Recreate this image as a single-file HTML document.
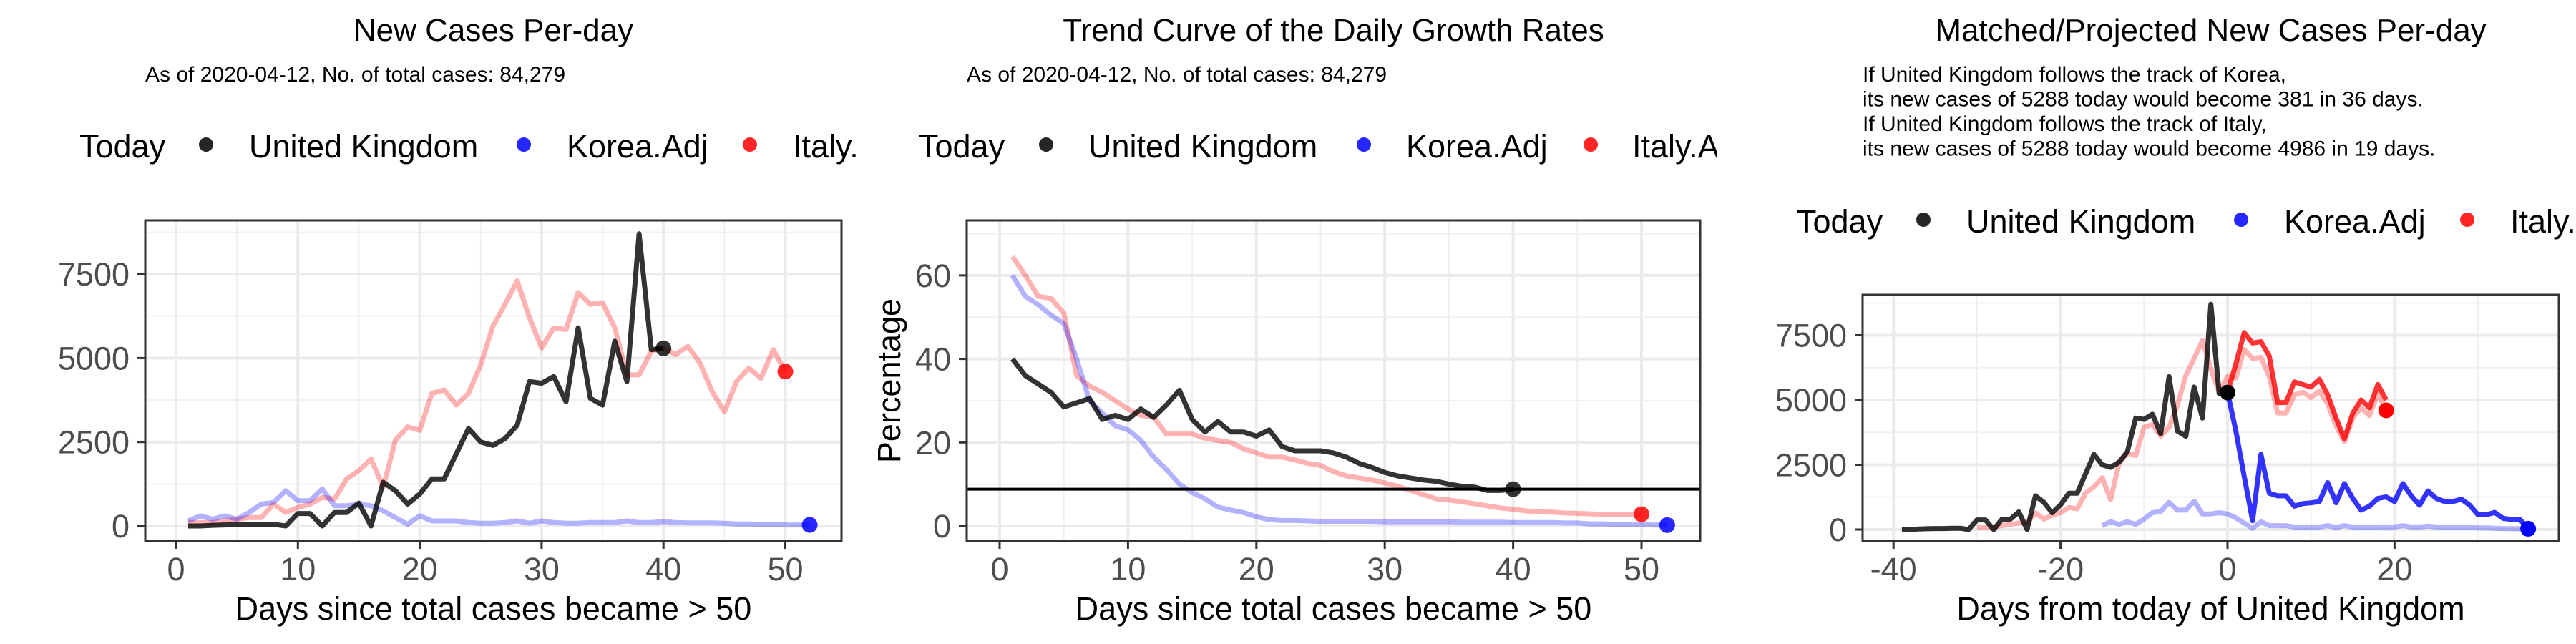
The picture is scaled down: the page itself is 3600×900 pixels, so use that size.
<!DOCTYPE html>
<html><head><meta charset="utf-8">
<style>
html,body{margin:0;padding:0;background:#fff;}
svg{display:block;font-family:"Liberation Sans",Arial,sans-serif;}
</style></head>
<body>
<svg id="chart" width="3600" height="900" viewBox="0 0 3600 900" xmlns="http://www.w3.org/2000/svg">
<defs>
<clipPath id="cp1"><rect x="0" y="0" width="1200" height="900"/></clipPath>
<clipPath id="cp2"><rect x="1200" y="0" width="1200" height="900"/></clipPath>
<clipPath id="cp3"><rect x="2400" y="0" width="1200" height="900"/></clipPath>
</defs>
<rect width="3600" height="900" fill="#fff"/>
</svg>
<script>
// ---- Panel 1 data: new cases per day ----
const ukDays = [1,2,3,4,5,6,7,8,9,10,11,12,13,14,15,16,17,18,19,20,21,22,23,24,25,26,27,28,29,30,31,32,33,34,35,36,37,38,39,40];
const ukCases = [0,0,20,30,40,40,50,50,0,370,370,0,400,400,680,0,1300,1050,650,950,1400,1400,2150,2900,2500,2400,2600,3000,4300,4250,4450,3700,5900,3800,3600,5500,4300,8700,5250,5288];
const italyCases = [100,100,100,150,200,250,250,650,400,550,650,850,800,1400,1650,2000,1150,2550,2950,2850,3950,4050,3600,3950,4800,5950,6600,7300,6200,5300,5900,5850,6950,6600,6650,5900,4500,4500,5200,5300,5100,5350,4850,4000,3400,4300,4700,4400,5250,4600];
const koreaCases = [150,300,200,300,200,400,650,700,1050,750,750,1100,600,600,650,600,450,250,50,300,150,150,150,100,80,80,100,150,80,150,100,80,80,100,100,100,150,100,100,130,100,90,90,90,80,60,60,50,40,30,30,30];
// ---- Panel 2 data: daily growth rates (%) ----
const ukRate = [40,36,34,32,28.5,29.5,30.5,25.5,26.5,25.5,28,26,29,32.5,25.5,22.5,25,22.5,22.5,21.5,23,19,18,18,18,17.5,16.5,15,14,12.8,12,11.5,11,10.7,10,9.5,9.3,8.5,8.5,8.8];
const italyRate = [64.5,60,55,54.5,51,36,33.5,32,30,28,26.5,26,22,22,22,21,20.5,20,18.5,17.5,16.5,16.5,15.8,15,14.5,13,12,11.5,11,10.3,9.5,8.5,7.5,6.5,6.2,5.8,5.3,4.8,4.3,4.0,3.6,3.4,3.3,3.1,3.0,2.9,2.8,2.8,2.8,2.8];
const koreaRate = [60,55,53,50.5,48.5,40,30,27,24,23,20.5,16.5,13.5,10,8,6.5,4.5,3.8,3.2,2.2,1.5,1.3,1.3,1.2,1.1,1.1,1.1,1.1,1.1,1.0,1.0,1.0,1.0,1.0,1.0,0.9,0.9,0.9,0.9,0.8,0.8,0.8,0.8,0.7,0.7,0.5,0.5,0.4,0.3,0.3,0.2,0.2];
const rateThreshold = [8.8];
// ---- Panel 3 data: matched / projected ----
const ukShift = [-40];
const italyShift = [-31];
const koreaShift = [-16];
const italyProjDays = [0,1,2,3,4,5,6,7,8,9,10,11,12,13,14,15,16,17,18,19];
const italyProj = [5300,6400,7600,7200,7250,6700,4900,4900,5700,5600,5500,5800,5200,4300,3500,4500,5000,4700,5600,5000];
const koreaProjDays = [0,1,2,3,4,5,6,7,8,9,10,11,12,13,14,15,16,17,18,19,20,21,22,23,24,25,26,27,28,29,30,31,32,33,34,35,36];
const koreaProj = [5300,3800,2050,340,2900,1400,1300,1300,900,1000,1030,1080,1810,1030,1770,1200,750,900,1200,1260,1080,1770,1300,940,1490,1200,1080,1080,1170,940,570,570,660,430,390,390,60];
const casesTicks = [0,2500,5000,7500];
const rateTicks = [0,20,40,60];
const dayTicks = [0,10,20,30,40,50];
const relDayTicks = [-40,-20,0,20];

const NS = "http://www.w3.org/2000/svg";
const svg = document.getElementById('chart');
function mk(tag, attrs, parent){
  const e = document.createElementNS(NS, tag);
  for (const k in attrs) e.setAttribute(k, attrs[k]);
  (parent||svg).appendChild(e);
  return e;
}
function txt(parent, x, y, s, size, fill, anchor, name){
  const t = mk('text', {x:x, y:y, 'font-size':size, fill:fill, 'text-anchor':anchor||'start'}, parent);
  t.textContent = s;
  
  
  return t;
}

function panel(cfg){
  const g = mk('g', {'clip-path':'url(#'+cfg.clip+')'});
  
  
  const L=cfg.box[0], R=cfg.box[1], T=cfg.box[2], B=cfg.box[3];
  const sx = v => cfg.x0px + (v - cfg.x0) * cfg.xpx;
  const sy = v => cfg.y0px - (v - cfg.y0) * cfg.ypx;
  // titles
  txt(g, (L+R)/2, 57, cfg.title, 44, '#000', 'middle', 'chart-title');
  cfg.sub.forEach((s,i)=>txt(g, L, 114 + i*34.5, s, 30, '#000', 'start', 'chart-subtitle'));
  // legend
  const lg = mk('g', {}, g);
  
  
  const ly = cfg.legY;
  txt(lg, cfg.leg[0], ly+18, 'Today', 45, '#000', 'start', 'legend-title');
  const items = [['United Kingdom','rgba(0,0,0,0.85)'],['Korea.Adj','rgba(0,0,255,0.85)'],['Italy.Adj','rgba(255,0,0,0.85)']];
  items.forEach((it,i)=>{
    const c = mk('circle', {cx:cfg.leg[1+i*2], cy:ly, r:10, fill:it[1]}, lg);
    
    
    txt(lg, cfg.leg[2+i*2], ly+18, it[0], 45, '#000', 'start', 'legend-entry');
  });
  // grid
  const grid = mk('g', {}, g);
  
  
  cfg.xMinor.forEach(v=>{ if(sx(v)>L&&sx(v)<R) mk('line',{x1:sx(v),x2:sx(v),y1:T,y2:B,stroke:'#f0f0f0','stroke-width':2},grid);});
  cfg.yMinor.forEach(v=>{ if(sy(v)>T&&sy(v)<B) mk('line',{x1:L,x2:R,y1:sy(v),y2:sy(v),stroke:'#f0f0f0','stroke-width':2},grid);});
  cfg.xTicks.forEach(v=>mk('line',{x1:sx(v),x2:sx(v),y1:T,y2:B,stroke:'#ebebeb','stroke-width':4},grid));
  cfg.yTicks.forEach(v=>mk('line',{x1:L,x2:R,y1:sy(v),y2:sy(v),stroke:'#ebebeb','stroke-width':4},grid));
  // series
  const plot = mk('g', {}, g);
  
  
  cfg.series.forEach(s=>{
    const pts = s.xs.map((x,i)=>sx(x).toFixed(1)+','+sy(s.ys[i]).toFixed(1)).join(' ');
    const p = mk('polyline',{points:pts,fill:'none',stroke:s.color,'stroke-width':7,'stroke-linejoin':'round'},plot);
    
    
  });
  (cfg.hlines||[]).forEach(v=>{
    const h = mk('line',{x1:L,x2:R,y1:sy(v),y2:sy(v),stroke:'#000','stroke-width':4},plot);
    
    
  });
  cfg.dots.forEach(d=>{
    const c = mk('circle',{cx:sx(d.x),cy:sy(d.y),r:11,fill:d.color},plot);
    
    
  });
  // border
  const bd = mk('rect',{x:L,y:T,width:R-L,height:B-T,fill:'none',stroke:'#333','stroke-width':3},g);
  
  
  // axes
  const ax = mk('g', {}, g);
  
  
  cfg.xTicks.forEach(v=>{
    mk('line',{x1:sx(v),x2:sx(v),y1:B,y2:B+11,stroke:'#333','stroke-width':3},ax);
    txt(ax, sx(v), 811, String(v), 45, '#4d4d4d', 'middle', 'x-tick-label');
  });
  txt(ax, (L+R)/2, 866, cfg.xTitle, 45, '#000', 'middle', 'x-axis-title');
  const ay = mk('g', {}, g);
  
  
  cfg.yTicks.forEach(v=>{
    mk('line',{x1:L-11,x2:L,y1:sy(v),y2:sy(v),stroke:'#333','stroke-width':3},ay);
    txt(ay, L-22, sy(v)+16, String(v), 45, '#4d4d4d', 'end', 'y-tick-label');
  });
  if (cfg.yTitle){
    const t = txt(ay, 0, 0, cfg.yTitle, 45, '#000', 'middle', 'y-axis-title');
    t.setAttribute('transform','translate('+cfg.yTitleX+','+((T+B)/2)+') rotate(-90)');
  }
}

const sub1 = ['As of 2020-04-12, No. of total cases: 84,279'];
const pink = 'rgba(255,0,0,0.3)', lblue = 'rgba(0,0,255,0.3)', dark = 'rgba(0,0,0,0.8)';
const italyDays = italyCases.map((v,i)=>i+1);
const koreaDays = koreaCases.map((v,i)=>i+1);

panel({name:'panel-new-cases', clip:'cp1', box:[203,1176,308,756],
  x0:0, x0px:246, xpx:17.03, y0:0, y0px:735, ypx:117.3/2500,
  title:'New Cases Per-day', sub:sub1, legY:202, leg:[111,288,348,732,792,1048,1108],
  xTicks:dayTicks, yTicks:casesTicks, xMinor:[5,15,25,35,45,55], yMinor:[1250,3750,6250,8750],
  xTitle:'Days since total cases became > 50',
  series:[
    {name:'italy-line', xs:italyDays, ys:italyCases, color:pink},
    {name:'korea-line', xs:koreaDays, ys:koreaCases, color:lblue},
    {name:'uk-line', xs:ukDays, ys:ukCases, color:dark}],
  dots:[{name:'uk-today-dot',x:ukDays[ukDays.length-1],y:ukCases[ukCases.length-1],color:dark},
        {name:'italy-today-dot',x:italyDays.length,y:italyCases[italyCases.length-1],color:'rgba(255,0,0,0.85)'},
        {name:'korea-today-dot',x:koreaDays.length,y:koreaCases[koreaCases.length-1],color:'rgba(0,0,255,0.85)'}]
});

panel({name:'panel-growth-rates', clip:'cp2', box:[1351,2376,308,756],
  x0:0, x0px:1397, xpx:17.94, y0:0, y0px:735, ypx:5.835,
  title:'Trend Curve of the Daily Growth Rates', sub:sub1, legY:202, leg:[1284,1462,1521,1906,1965,2223,2281],
  xTicks:dayTicks, yTicks:rateTicks, xMinor:[5,15,25,35,45,55], yMinor:[10,30,50,70],
  xTitle:'Days since total cases became > 50', yTitle:'Percentage', yTitleX:1258,
  hlines:rateThreshold,
  series:[
    {name:'italy-rate-line', xs:italyDays, ys:italyRate, color:pink},
    {name:'korea-rate-line', xs:koreaRate.map((v,i)=>i+1), ys:koreaRate, color:lblue},
    {name:'uk-rate-line', xs:ukDays, ys:ukRate, color:dark}],
  dots:[{name:'uk-today-dot',x:ukRate.length,y:ukRate[ukRate.length-1],color:dark},
        {name:'italy-today-dot',x:italyRate.length,y:italyRate[italyRate.length-1],color:'rgba(255,0,0,0.85)'},
        {name:'korea-today-dot',x:koreaRate.length,y:koreaRate[koreaRate.length-1],color:'rgba(0,0,255,0.85)'}]
});

panel({name:'panel-projected', clip:'cp3', box:[2603,3576,412,756],
  x0:0, x0px:3113, xpx:11.67, y0:0, y0px:740, ypx:90.5/2500,
  title:'Matched/Projected New Cases Per-day',
  sub:['If United Kingdom follows the track of Korea,','its new cases of 5288 today would become 381 in 36 days.','If United Kingdom follows the track of Italy,','its new cases of 5288 today would become 4986 in 19 days.'],
  legY:307, leg:[2511,2688,2748,3132,3192,3448,3508],
  xTicks:relDayTicks, yTicks:casesTicks, xMinor:[-30,-10,10,30], yMinor:[1250,3750,6250,8750],
  xTitle:'Days from today of United Kingdom',
  series:[
    {name:'italy-matched-line', xs:italyDays.map(d=>d+italyShift[0]), ys:italyCases, color:pink},
    {name:'korea-matched-line', xs:koreaDays.map(d=>d+koreaShift[0]), ys:koreaCases, color:lblue},
    {name:'uk-line', xs:ukDays.map(d=>d+ukShift[0]), ys:ukCases, color:dark},
    {name:'italy-projection-line', xs:italyProjDays, ys:italyProj, color:'rgba(255,0,0,0.8)'},
    {name:'korea-projection-line', xs:koreaProjDays, ys:koreaProj, color:'rgba(0,0,255,0.8)'}],
  dots:[{name:'uk-today-dot',x:0,y:ukCases[ukCases.length-1],color:'#000'},
        {name:'italy-today-dot',x:italyCases.length+italyShift[0],y:italyCases[italyCases.length-1],color:'#f00'},
        {name:'korea-today-dot',x:koreaCases.length+koreaShift[0],y:koreaCases[koreaCases.length-1],color:'#00f'}]
});
</script>
</body></html>
